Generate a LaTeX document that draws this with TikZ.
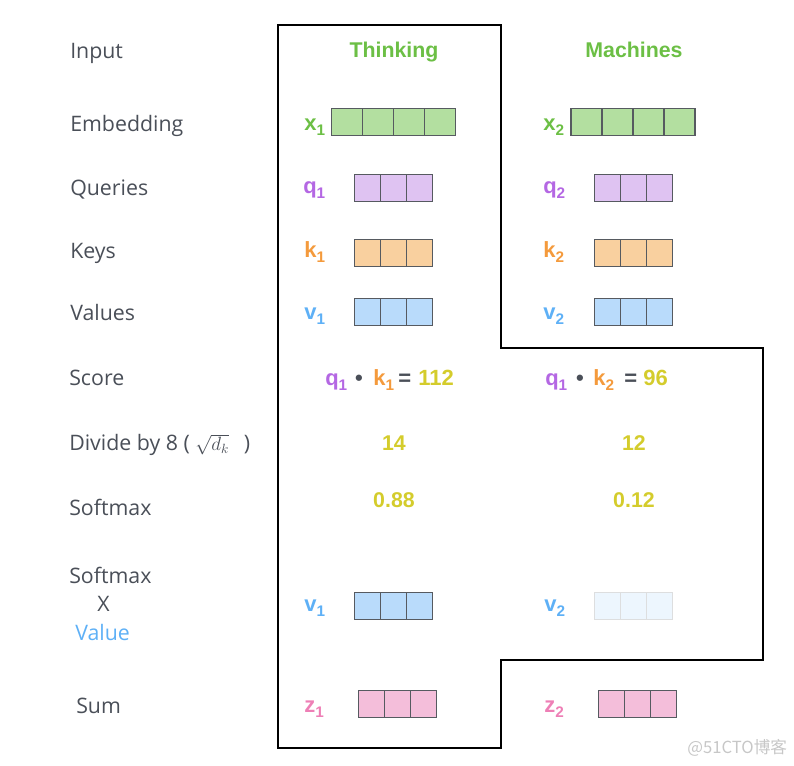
\documentclass[tikz,border=0pt]{standalone}
\usepackage{fontspec}
\setmainfont{Liberation Sans}
\newfontfamily\labfont{Open Sans}
\newfontfamily\cjkfont{Noto Sans CJK SC}
\definecolor{dk}{HTML}{4A4F58}
\definecolor{grn}{HTML}{6CBF45}
\definecolor{gfill}{HTML}{B3DFA0}
\definecolor{pur}{HTML}{B467E3}
\definecolor{pfill}{HTML}{DFC3F2}
\definecolor{org}{HTML}{F49A3C}
\definecolor{ofill}{HTML}{F9D09F}
\definecolor{blu}{HTML}{5EB0F6}
\definecolor{bfill}{HTML}{B9DBFB}
\definecolor{pnk}{HTML}{EE7FB6}
\definecolor{zfill}{HTML}{F4BEDA}
\definecolor{ylw}{HTML}{D4CC2C}
\definecolor{cellline}{HTML}{565A60}
\newcommand{\sbs}[1]{\raisebox{-0.4ex}{\fontsize{11.5}{11}\selectfont #1}}
\newcommand{\vecrow}[5]{% left x, top y, n, cell width, style
  \foreach \i in {1,...,#3}{\draw[#5] ({#1+(\i-1)*#4},#2) rectangle ++(#4,27);}}
\begin{document}
\begin{tikzpicture}[x=0.75pt,y=-0.75pt,
  rowlab/.style={anchor=base west,inner sep=0pt,font=\labfont\fontsize{16}{18}\selectfont,text=dk},
  veclab/.style={anchor=base west,inner sep=0pt,font=\bfseries\fontsize{16.5}{18}\selectfont},
  num/.style={anchor=base,inner sep=0pt,font=\bfseries\fontsize{16}{18}\selectfont,text=ylw},
  cell/.style={draw=cellline,line width=0.9pt}]
\useasboundingbox (0,0) rectangle (794,766);
% outline
\draw[line width=1pt,line join=miter] (278,25) -- (501,25) -- (501,348) -- (763,348) -- (763,660) -- (501,660) -- (501,748) -- (278,748) -- cycle;
% row labels
\node[rowlab] (lInput) at (70,59) {Input};
\node[rowlab] (lEmb) at (70,132) {Embedding};
\node[rowlab] (lQ) at (70,196) {Queries};
\node[rowlab] (lK) at (70,259) {Keys};
\node[rowlab] (lV) at (70,321) {Values};
\node[rowlab] (lScore) at (69,386) {Score};
\node[rowlab] (lDiv) at (69,451) {Divide by 8 ( {\color{dk}\fontsize{14}{16}\selectfont$\sqrt{d_k}$} \ \,)};
\node[rowlab] (lSoft) at (69,516) {Softmax};
\node[rowlab] (lSoft2) at (69,584) {Softmax};
\node[rowlab] (lX) at (97,612) {X};
\node[rowlab,text=blu] (lVal) at (75,641) {Value};
\node[rowlab] (lSum) at (76,714) {Sum};
% words
\node[num,text=grn] (w1) at (394,58) {Thinking};
\node[num,text=grn] (w2) at (634,58) {Machines};
% embeddings
\node[veclab,text=grn] (x1) at (304,131) {x\sbs{1}};
\vecrow{331.5}{108.5}{4}{31}{cell,fill=gfill}
\node[veclab,text=grn] (x2) at (543,131) {x\sbs{2}};
\vecrow{571}{108.5}{4}{31}{cell,fill=gfill}
% queries
\node[veclab,text=pur] (q1) at (303,194) {q\sbs{1}};
\vecrow{354.5}{174.5}{3}{26}{cell,fill=pfill}
\node[veclab,text=pur] (q2) at (543,194) {q\sbs{2}};
\vecrow{594.5}{174.5}{3}{26}{cell,fill=pfill}
% keys
\node[veclab,text=org] (k1) at (304,258) {k\sbs{1}};
\vecrow{354.5}{239.5}{3}{26}{cell,fill=ofill}
\node[veclab,text=org] (k2) at (543,258) {k\sbs{2}};
\vecrow{594.5}{239.5}{3}{26}{cell,fill=ofill}
% values
\node[veclab,text=blu] (v1) at (304,320) {v\sbs{1}};
\vecrow{354.5}{298.5}{3}{26}{cell,fill=bfill}
\node[veclab,text=blu] (v2) at (543,320) {v\sbs{2}};
\vecrow{594.5}{298.5}{3}{26}{cell,fill=bfill}
% score row 1
\node[veclab,text=pur] (s1q) at (325,386) {q\sbs{1}};
\node[veclab,text=dk,anchor=base] (s1d) at (359,386) {\textbullet};
\node[veclab,text=org] (s1k) at (373,386) {k\sbs{1}};
\node[veclab,text=dk] (s1e) at (398,386) {=};
\node[veclab,text=ylw] (s1n) at (418,386) {112};
% score row 2
\node[veclab,text=pur] (s2q) at (545,386) {q\sbs{1}};
\node[veclab,text=dk,anchor=base] (s2d) at (580,386) {\textbullet};
\node[veclab,text=org] (s2k) at (593,386) {k\sbs{2}};
\node[veclab,text=dk] (s2e) at (624,386) {=};
\node[veclab,text=ylw] (s2n) at (643,386) {96};
% divide
\node[num] (d1) at (394,451) {14};
\node[num] (d2) at (634,451) {12};
% softmax
\node[num] (m1) at (394,508) {0.88};
\node[num] (m2) at (634,508) {0.12};
% softmax x value
\node[veclab,text=blu] (sv1) at (304,612) {v\sbs{1}};
\vecrow{354.5}{592.5}{3}{26}{cell,fill=bfill}
\node[veclab,text=blu] (sv2) at (544,612) {v\sbs{2}};
\vecrow{594.5}{592.5}{3}{26}{draw=cellline!20,line width=0.9pt,fill=bfill!25}
% sum
\node[veclab,text=pnk] (z1) at (304,713) {z\sbs{1}};
\vecrow{358.5}{690.5}{3}{26}{cell,fill=zfill}
\node[veclab,text=pnk] (z2) at (544,713) {z\sbs{2}};
\vecrow{598.5}{690.5}{3}{26}{cell,fill=zfill}
% watermark
\node[anchor=base west,inner sep=0pt,text=black!22,font=\cjkfont\fontsize{12.5}{14}\selectfont] (wm) at (687,754) {@51CTO博客};
\end{tikzpicture}
\end{document}
